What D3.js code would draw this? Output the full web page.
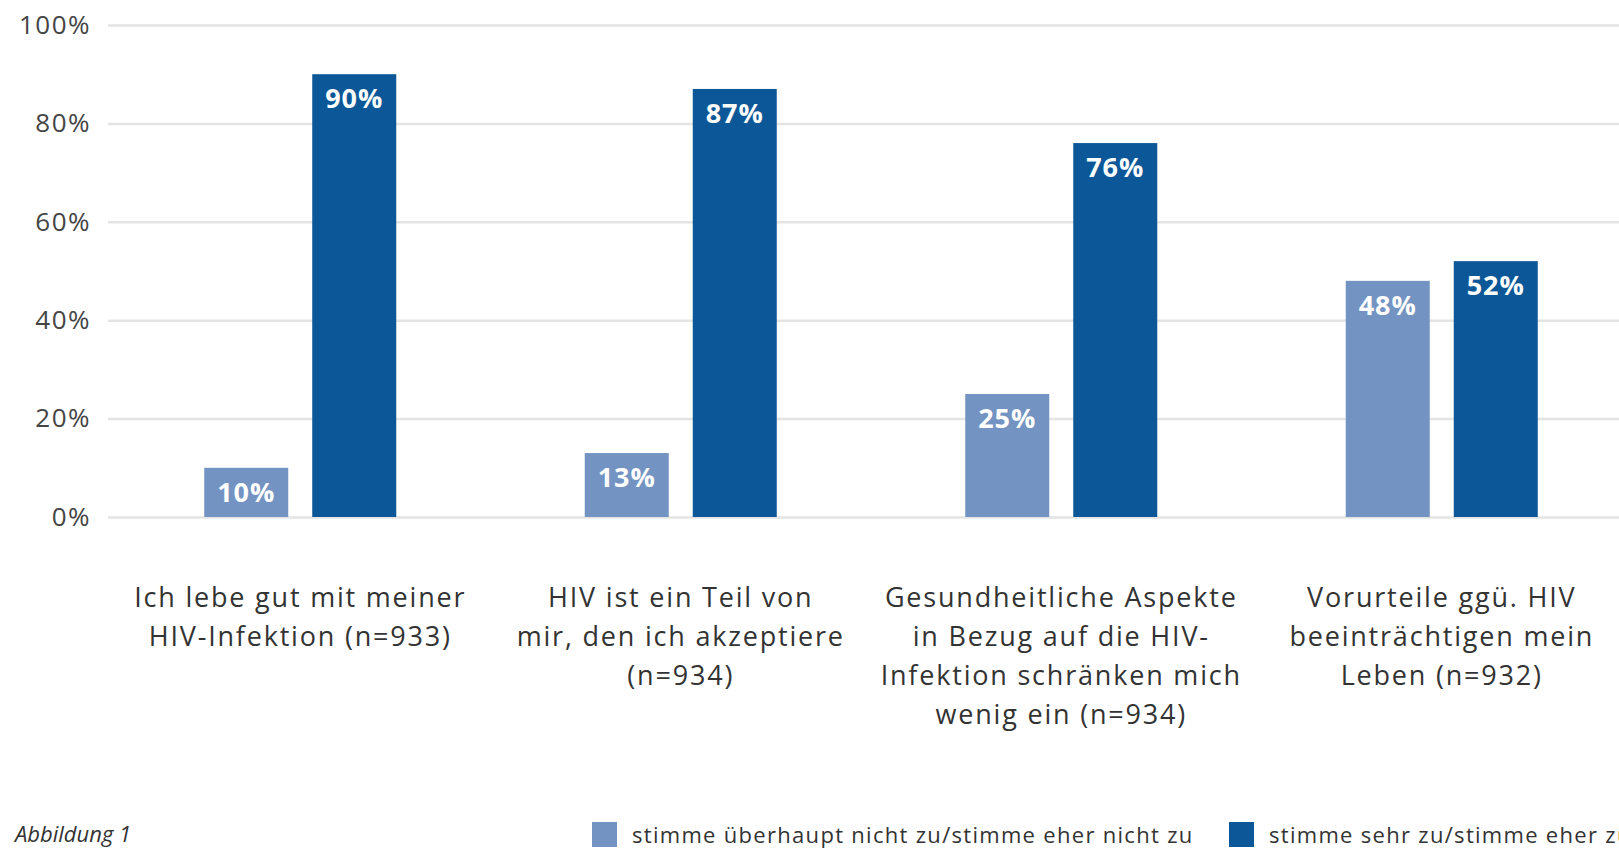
<!DOCTYPE html>
<html>
<head>
<meta charset="utf-8">
<script src="https://cdn.jsdelivr.net/npm/d3@7"></script>
<style>
  body { margin: 0; background: #fff; }
  svg { display: block; font-family: "Open Sans", "Noto Sans", sans-serif; }
  .axis--y .domain { display: none; }
  .axis--y line { stroke: #e4e4e4; stroke-width: 2.5; }
  .axis--y text { fill: #454545; font-size: 26px; font-family: "Open Sans", sans-serif; letter-spacing: 1.5px; }
</style>
</head>
<body>
<script>
'use strict';

// data
const categories = [
  ['Ich lebe gut mit meiner', 'HIV-Infektion (n=933)'],
  ['HIV ist ein Teil von', 'mir, den ich akzeptiere', '(n=934)'],
  ['Gesundheitliche Aspekte', 'in Bezug auf die HIV-', 'Infektion schränken mich', 'wenig ein (n=934)'],
  ['Vorurteile ggü. HIV', 'beeinträchtigen mein', 'Leben (n=932)']
];
const disagree = [0.10, 0.13, 0.25, 0.48];
const agree = [0.90, 0.87, 0.76, 0.52];
const seriesNames = ['stimme überhaupt nicht zu/stimme eher nicht zu', 'stimme sehr zu/stimme eher zu'];
const yTicks = [0, 0.2, 0.4, 0.6, 0.8, 1];
const colors = ['#7393c2', '#0b5797'];

const W = 1619;
const H = 851;
const margin = {top: 25, left: 108};
const percentFormat = d3.format('.0%');

const svg = d3.select('body').append('svg')
    .attr('width', W)
    .attr('height', H);

const xScale = d3.scaleBand()
    .domain(d3.range(categories.length))
    .range([110, 1632]);

const xInner = d3.scalePoint()
    .domain([0, 1])
    .range([-54, 54]);

const yScale = d3.scaleLinear()
    .domain([0, 1])
    .range([517, margin.top]);

svg.append('g')
    .attr('class', 'axis axis--y')
    .attr('transform', 'translate(' + margin.left + ',0)')
    .call(d3.axisLeft(yScale)
      .tickValues(yTicks)
      .tickFormat(percentFormat)
      .tickSize(-(W - margin.left))
      .tickPadding(17))
    .attr('font-family', null);

const barWidth = 84;
const series = [disagree, agree];

series.forEach((vals, s) => {
  const g = svg.append('g');
  const cx = i => xScale(i) + xScale.bandwidth() / 2 + xInner(s);

  g.selectAll('rect')
    .data(vals)
    .join('rect')
      .attr('x', (d, i) => cx(i) - barWidth / 2)
      .attr('y', d => yScale(d))
      .attr('width', barWidth)
      .attr('height', d => yScale(0) - yScale(d))
      .attr('fill', colors[s]);

  g.selectAll('text')
    .data(vals)
    .join('text')
      .attr('x', (d, i) => cx(i))
      .attr('y', d => yScale(d) + 34)
      .attr('text-anchor', 'middle')
      .attr('fill', '#fff')
      .attr('font-size', 27)
      .attr('font-weight', 'bold')
      .attr('letter-spacing', 1)
      .text(d => percentFormat(d));
});

// category labels
const labels = svg.append('g')
  .selectAll('text')
  .data(categories)
  .join('text')
    .attr('text-anchor', 'middle')
    .attr('fill', '#333')
    .attr('font-size', 27)
    .attr('letter-spacing', 1.8)
    .attr('transform', (d, i) => 'translate(' + (xScale(i) + xScale.bandwidth() / 2) + ',607)');

labels.selectAll('tspan')
  .data(d => d)
  .join('tspan')
    .attr('x', 0)
    .attr('y', (d, i) => i * 39)
    .text(d => d);

// footer
svg.append('text')
    .attr('x', 15)
    .attr('y', 842)
    .attr('font-size', 22)
    .attr('font-style', 'italic')
    .attr('fill', '#333')
    .text('Abbildung 1');

const legendX = [592, 1229];
const legend = svg.append('g')
  .selectAll('g')
  .data(seriesNames)
  .join('g')
    .attr('transform', (d, i) => 'translate(' + legendX[i] + ',822)');

legend.append('rect')
    .attr('width', 25)
    .attr('height', 25)
    .attr('fill', (d, i) => colors[i]);

legend.append('text')
    .attr('x', 40)
    .attr('y', 21)
    .attr('font-size', 22)
    .attr('letter-spacing', 1.3)
    .attr('fill', '#333')
    .text(d => d);
</script>
</body>
</html>
